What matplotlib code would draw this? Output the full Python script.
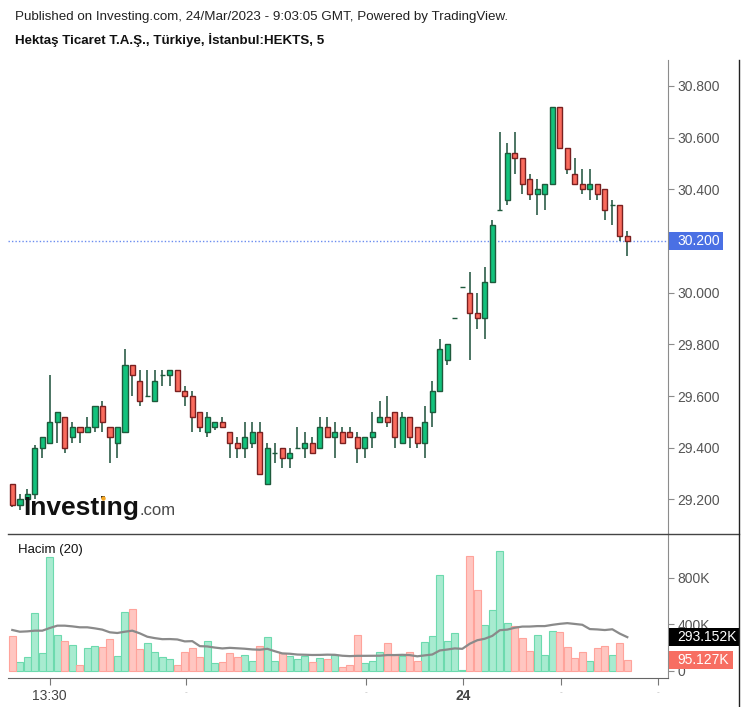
import numpy as np
import pandas as pd
import matplotlib
matplotlib.use('Agg')
import matplotlib.pyplot as plt
from matplotlib.patches import Rectangle
from matplotlib.lines import Line2D
from matplotlib.transforms import blended_transform_factory

plt.rcParams['font.family'] = ['Liberation Sans', 'DejaVu Sans']

# ---------------- data (5-minute candles, HEKTS) ----------------
opens = [29.26, 29.18, 29.20, 29.22, 29.40, 29.42, 29.50, 29.52, 29.44, 29.48,
         29.46, 29.48, 29.56, 29.48, 29.42, 29.46, 29.72, 29.66, 29.60, 29.58,
         29.68, 29.68, 29.70, 29.62, 29.60, 29.54, 29.46, 29.48, 29.50, 29.46,
         29.42, 29.40, 29.42, 29.46, 29.26, 29.38, 29.40, 29.36, 29.40, 29.40,
         29.42, 29.40, 29.48, 29.44, 29.46, 29.46, 29.44, 29.40, 29.44, 29.50,
         29.52, 29.54, 29.42, 29.52, 29.48, 29.42, 29.54, 29.62, 29.74, 29.90,
         30.02, 30.00, 29.92, 29.90, 30.04, 30.32, 30.36, 30.54, 30.52, 30.44,
         30.38, 30.38, 30.42, 30.72, 30.56, 30.46, 30.42, 30.40, 30.42, 30.40,
         30.34, 30.34, 30.22]
highs = [29.26, 29.22, 29.24, 29.41, 29.44, 29.68, 29.54, 29.52, 29.50, 29.48,
         29.52, 29.56, 29.58, 29.48, 29.48, 29.78, 29.72, 29.70, 29.70, 29.70,
         29.70, 29.70, 29.70, 29.64, 29.62, 29.54, 29.54, 29.50, 29.52, 29.46,
         29.44, 29.50, 29.50, 29.50, 29.42, 29.42, 29.40, 29.40, 29.48, 29.46,
         29.44, 29.52, 29.52, 29.50, 29.48, 29.48, 29.46, 29.44, 29.54, 29.58,
         29.60, 29.54, 29.54, 29.52, 29.48, 29.56, 29.66, 29.82, 29.80, 29.90,
         30.02, 30.08, 30.00, 30.10, 30.28, 30.62, 30.58, 30.62, 30.52, 30.46,
         30.44, 30.42, 30.72, 30.72, 30.56, 30.52, 30.48, 30.48, 30.42, 30.40,
         30.36, 30.34, 30.24]
lows = [29.17, 29.16, 29.19, 29.20, 29.36, 29.42, 29.42, 29.38, 29.42, 29.42,
        29.46, 29.46, 29.46, 29.34, 29.36, 29.46, 29.60, 29.56, 29.60, 29.58,
        29.64, 29.64, 29.62, 29.56, 29.46, 29.46, 29.44, 29.47, 29.48, 29.36,
        29.36, 29.36, 29.40, 29.30, 29.26, 29.34, 29.32, 29.32, 29.40, 29.36,
        29.38, 29.40, 29.44, 29.36, 29.42, 29.44, 29.34, 29.36, 29.40, 29.50,
        29.48, 29.40, 29.42, 29.40, 29.40, 29.36, 29.48, 29.62, 29.72, 29.90,
        30.02, 29.74, 29.86, 29.82, 30.04, 30.32, 30.34, 30.46, 30.38, 30.36,
        30.30, 30.32, 30.42, 30.56, 30.46, 30.42, 30.38, 30.36, 30.36, 30.28,
        30.26, 30.20, 30.14]
closes = [29.18, 29.20, 29.22, 29.40, 29.44, 29.50, 29.54, 29.40, 29.48, 29.46,
          29.48, 29.56, 29.50, 29.44, 29.48, 29.72, 29.68, 29.58, 29.60, 29.66,
          29.68, 29.70, 29.62, 29.60, 29.52, 29.48, 29.52, 29.50, 29.48, 29.42,
          29.40, 29.44, 29.46, 29.30, 29.40, 29.38, 29.36, 29.38, 29.40, 29.42,
          29.38, 29.48, 29.44, 29.46, 29.42, 29.44, 29.40, 29.44, 29.46, 29.52,
          29.50, 29.44, 29.52, 29.44, 29.42, 29.50, 29.62, 29.78, 29.80, 29.90,
          30.02, 29.92, 29.90, 30.04, 30.26, 30.32, 30.54, 30.52, 30.42, 30.38,
          30.40, 30.42, 30.72, 30.56, 30.48, 30.42, 30.40, 30.42, 30.38, 30.32,
          30.34, 30.22, 30.20]
# volume in thousands
volumes = [301, 77, 120, 496, 152, 980, 310, 258, 224, 52,
           195, 215, 206, 269, 129, 507, 527, 183, 235, 163,
           120, 97, 52, 163, 195, 120, 258, 63, 77, 152,
           120, 138, 86, 215, 292, 86, 152, 129, 97, 129,
           77, 109, 97, 138, 34, 52, 310, 63, 86, 163,
           235, 135, 129, 163, 86, 249, 301, 825, 258, 321,
           3, 989, 696, 395, 524, 1032, 410, 387, 281, 172,
           310, 138, 344, 335, 206, 109, 160, 86, 195, 215,
           138, 235, 95.127]
# volume MA(20) values read for the first candles (their inputs lie before the chart)
vol_ma_head = [350, 335, 338, 344, 344, 367, 387, 387, 381, 373,
               373, 364, 353, 330, 324, 335, 344, 321, 292]
vol_ma_last = 293.152
last_price = 30.200
price_ticks = [29.2, 29.4, 29.6, 29.8, 30.0, 30.2, 30.4, 30.6, 30.8]
vol_ticks = [0, 400, 800]
vol_tick_labels = ['0', '400K', '800K']
x_tick_labels = ['13:30', '-', '-', '24', '-', '-']

header = "Published on Investing.com, 24/Mar/2023 - 9:03:05 GMT, Powered by TradingView."
title = "Hektaş Ticaret T.A.Ş., Türkiye, İstanbul:HEKTS, 5"

# ---------------- layout ----------------
W, H = 747, 707
fig = plt.figure(figsize=(W / 100, H / 100), dpi=100)
fig.patch.set_facecolor('white')


def fx(px):
    return px / W


def fy(py):
    return 1 - py / H


AX_L, AX_R = 8, 668
ax = fig.add_axes([fx(AX_L), fy(533), fx(AX_R) - fx(AX_L), fy(60) - fy(533)])
axv = fig.add_axes([fx(AX_L), fy(678), fx(AX_R) - fx(AX_L), fy(533) - fy(678)], sharex=ax)
axw = AX_R - AX_L

n = len(opens)
x = np.arange(n)
o = np.array(opens); h = np.array(highs); l = np.array(lows); c = np.array(closes)
up = c >= o

GREEN_FILL, GREEN_EDGE = '#12c27c', '#1e5a3c'
RED_FILL, RED_EDGE = '#fa6b5d', '#7a2020'
WICK = '#3e6a57'

# candles
ax.vlines(x, l, h, color=WICK, lw=1.3, zorder=2)
body_bottom = np.minimum(o, c)
body_h = np.abs(c - o)
ax.bar(x[up], body_h[up], bottom=body_bottom[up], width=0.72,
       color=GREEN_FILL, edgecolor=GREEN_EDGE, linewidth=1.0, zorder=3)
ax.bar(x[~up], body_h[~up], bottom=body_bottom[~up], width=0.72,
       color=RED_FILL, edgecolor=RED_EDGE, linewidth=1.0, zorder=3)

ax.set_xlim((AX_L - 12.3) / 7.5, (AX_R - 12.3) / 7.5)
ax.set_ylim(29.070, 30.900)

ax.axhline(last_price, color='#6a8cf0', lw=1.0, ls=(0, (1, 1.5)), zorder=1)

for s in ['top', 'left', 'bottom']:
    ax.spines[s].set_visible(False)
ax.spines['right'].set_color('#8c8c8c')
ax.yaxis.tick_right()
ax.set_yticks(price_ticks)
ax.set_yticklabels([f"{v:.3f}" for v in price_ticks])
ax.tick_params(axis='y', length=4, color='#8c8c8c', labelcolor='#555555',
               labelsize=10, pad=3)
ax.tick_params(axis='x', bottom=False, labelbottom=False)

# last price label box
bt = blended_transform_factory(ax.transAxes, ax.transData)
ph = 18 / 258.5
ax.add_patch(Rectangle((1.0015, last_price - ph / 2), 54 / axw, ph, transform=bt,
                       fc='#4a70e4', ec='none', clip_on=False, zorder=10))
ax.text(1 + 9 / axw, last_price, f"{last_price:.3f}", transform=bt, ha='left',
        va='center', color='white', fontsize=10, zorder=11, clip_on=False)

# ---------------- volume ----------------
vol = np.array(volumes)
axv.bar(x[up], vol[up], width=0.9, color='#a8ebd0', edgecolor='#6ddaae',
        linewidth=0.8, zorder=2)
axv.bar(x[~up], vol[~up], width=0.9, color='#ffc6c1', edgecolor='#ffa39b',
        linewidth=0.8, zorder=2)
ma = pd.Series(vol).rolling(20).mean().to_numpy()
ma[:len(vol_ma_head)] = vol_ma_head
axv.plot(x, ma, color='#8a8a8a', lw=1.6, zorder=3)

axv.set_ylim(-63, 1184)
for s in ['top', 'left']:
    axv.spines[s].set_visible(False)
axv.spines['right'].set_color('#8c8c8c')
axv.spines['bottom'].set_color('#666666')
axv.yaxis.tick_right()
axv.set_yticks(vol_ticks)
axv.set_yticklabels(vol_tick_labels)
axv.tick_params(axis='y', length=4, color='#8c8c8c', labelcolor='#555555',
                labelsize=10, pad=3)
axv.set_xticks([5, 23.2, 47.2, 60.1, 73.2, 86.1])
axv.set_xticklabels(x_tick_labels)
axv.tick_params(axis='x', length=5, color='#777777', labelcolor='#444444',
                labelsize=10, pad=3)
for i, t in enumerate(axv.get_xticklabels()):
    if x_tick_labels[i] == '24':
        t.set_fontweight('bold')
    elif x_tick_labels[i] == '-':
        t.set_fontsize(6)
        t.set_color('#bbbbbb')

vt = blended_transform_factory(axv.transAxes, axv.transData)
vh = 18 / 0.1163
axv.add_patch(Rectangle((1.0015, vol_ma_last - vh / 2), 71 / axw, vh, transform=vt,
                        fc='black', ec='none', clip_on=False, zorder=10))
axv.text(1 + 9 / axw, vol_ma_last, f"{vol_ma_last:.3f}K", transform=vt, ha='left',
         va='center', color='white', fontsize=10, zorder=11, clip_on=False)
axv.add_patch(Rectangle((1.0015, volumes[-1] - vh / 2), 64 / axw, vh, transform=vt,
                        fc='#f76e62', ec='none', clip_on=False, zorder=10))
axv.text(1 + 9 / axw, volumes[-1], f"{volumes[-1]:.3f}K", transform=vt, ha='left',
         va='center', color='white', fontsize=10, zorder=11, clip_on=False)

# ---------------- frame lines ----------------
fig.add_artist(Line2D([fx(AX_L), fx(739)], [fy(533.5), fy(533.5)], color='#444444', lw=1.0))
fig.add_artist(Line2D([fx(739), fx(739)], [fy(60), fy(707)], color='#222222', lw=1.0))

# ---------------- texts ----------------
fig.text(fx(15), fy(17), header, fontsize=9.6, color='#222222', va='center', ha='left')
fig.text(fx(15), fy(40), title, fontsize=9.6, color='#111111', va='center', ha='left',
         fontweight='bold')
fig.text(fx(18), fy(550), "Hacim (20)", fontsize=9.5, color='#111111', va='center', ha='left')

LOGO_FS = 19
logo = fig.text(fx(23), fy(515), "Investing", fontsize=LOGO_FS, fontweight='bold',
                color='#111111', va='baseline', ha='left', zorder=20)
fig.canvas.draw()
bb = logo.get_window_extent()
fig.text(bb.x1 / W + 0.001, fy(515), ".com", fontsize=12, color='#4a4a4a',
         va='baseline', ha='left', zorder=20)
em = LOGO_FS * 100 / 72
i_center = bb.x0 + (bb.x1 - bb.x0) * (3.03 / 4.39)
fig.add_artist(Line2D([i_center / W], [fy(515) + 0.66 * em / H], marker='o',
                      markersize=3.2, color='#f5a623', markeredgewidth=0, zorder=21))

fig.savefig('out.png', dpi=100, facecolor='white')
